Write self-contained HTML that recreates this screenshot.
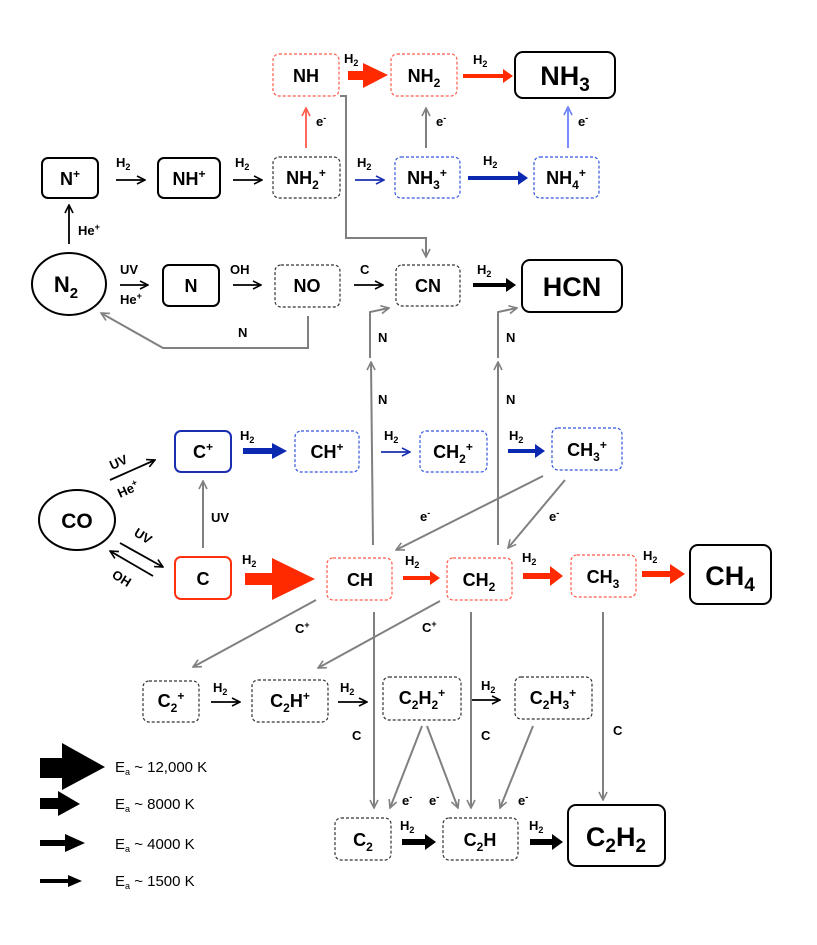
<!DOCTYPE html>
<html><head><meta charset="utf-8"><style>
html,body{margin:0;padding:0;background:#fff}
svg{display:block}
text{font-family:"Liberation Sans",Arial,sans-serif;fill:#000}
.b{font-size:18px;font-weight:bold}
.B{font-size:27px;font-weight:bold}
.s{font-size:13px;font-weight:bold}
.l{font-size:15px}
</style></head><body>
<svg width="817" height="945" viewBox="0 0 817 945" xmlns="http://www.w3.org/2000/svg">
<defs>
<marker id="g" viewBox="0 0 10 10" refX="9" refY="5" markerWidth="10" markerHeight="10" markerUnits="userSpaceOnUse" orient="auto"><path d="M1,1 L9,5 L1,9" fill="none" stroke="#808080" stroke-width="1.6"/></marker>
<marker id="k" viewBox="0 0 10 10" refX="9" refY="5" markerWidth="10" markerHeight="10" markerUnits="userSpaceOnUse" orient="auto"><path d="M1,1 L9,5 L1,9" fill="none" stroke="#000" stroke-width="1.6"/></marker>
<marker id="bl" viewBox="0 0 10 10" refX="9" refY="5" markerWidth="10" markerHeight="10" markerUnits="userSpaceOnUse" orient="auto"><path d="M1,1 L9,5 L1,9" fill="none" stroke="#1a2fb0" stroke-width="1.6"/></marker>
<marker id="lb" viewBox="0 0 10 10" refX="9" refY="5" markerWidth="10" markerHeight="10" markerUnits="userSpaceOnUse" orient="auto"><path d="M1,1 L9,5 L1,9" fill="none" stroke="#6a80ff" stroke-width="1.6"/></marker>
<marker id="r" viewBox="0 0 10 10" refX="9" refY="5" markerWidth="10" markerHeight="10" markerUnits="userSpaceOnUse" orient="auto"><path d="M1,1 L9,5 L1,9" fill="none" stroke="#ff5a4a" stroke-width="1.6"/></marker>
</defs>

<!-- boxes -->
<g fill="#fff" stroke-width="1.2">
<rect x="273" y="54" width="66" height="42" rx="6" stroke="#ff5a4a" stroke-dasharray="3 2"/>
<rect x="391" y="54" width="66" height="42" rx="6" stroke="#ff5a4a" stroke-dasharray="3 2"/>
<rect x="515" y="52" width="100" height="46" rx="8" stroke="#000" stroke-width="2"/>
<rect x="42" y="158" width="56" height="40" rx="6" stroke="#000" stroke-width="2"/>
<rect x="158" y="158" width="62" height="40" rx="6" stroke="#000" stroke-width="2"/>
<rect x="273" y="157" width="67" height="41" rx="6" stroke="#333" stroke-dasharray="3 2"/>
<rect x="395" y="157" width="65" height="41" rx="6" stroke="#3355dd" stroke-dasharray="3 2"/>
<rect x="534" y="157" width="65" height="41" rx="6" stroke="#3355dd" stroke-dasharray="3 2"/>
<ellipse cx="69" cy="284" rx="37" ry="31" stroke="#000" stroke-width="2"/>
<rect x="163" y="265" width="56" height="41" rx="6" stroke="#000" stroke-width="2"/>
<rect x="275" y="265" width="65" height="42" rx="6" stroke="#333" stroke-dasharray="3 2"/>
<rect x="396" y="265" width="64" height="41" rx="6" stroke="#333" stroke-dasharray="3 2"/>
<rect x="522" y="260" width="100" height="52" rx="8" stroke="#000" stroke-width="2"/>
<rect x="175" y="431" width="56" height="41" rx="6" stroke="#1a2fb0" stroke-width="2"/>
<rect x="295" y="431" width="64" height="41" rx="6" stroke="#3355dd" stroke-dasharray="3 2"/>
<rect x="420" y="431" width="67" height="41" rx="6" stroke="#3355dd" stroke-dasharray="3 2"/>
<rect x="552" y="428" width="70" height="42" rx="6" stroke="#3355dd" stroke-dasharray="3 2"/>
<ellipse cx="77" cy="520" rx="38" ry="30" stroke="#000" stroke-width="2"/>
<rect x="175" y="557" width="56" height="42" rx="6" stroke="#ff3010" stroke-width="2"/>
<rect x="327" y="558" width="65" height="42" rx="6" stroke="#ff5a4a" stroke-dasharray="3 2"/>
<rect x="447" y="558" width="65" height="42" rx="6" stroke="#ff5a4a" stroke-dasharray="3 2"/>
<rect x="571" y="555" width="65" height="42" rx="6" stroke="#ff5a4a" stroke-dasharray="3 2"/>
<rect x="690" y="545" width="81" height="59" rx="8" stroke="#000" stroke-width="2"/>
<rect x="143" y="681" width="56" height="41" rx="6" stroke="#333" stroke-dasharray="3 2"/>
<rect x="252" y="680" width="76" height="42" rx="6" stroke="#333" stroke-dasharray="3 2"/>
<rect x="383" y="677" width="78" height="43" rx="6" stroke="#333" stroke-dasharray="3 2"/>
<rect x="515" y="677" width="77" height="42" rx="6" stroke="#333" stroke-dasharray="3 2"/>
<rect x="335" y="818" width="56" height="42" rx="6" stroke="#333" stroke-dasharray="3 2"/>
<rect x="443" y="818" width="75" height="42" rx="6" stroke="#333" stroke-dasharray="3 2"/>
<rect x="568" y="805" width="97" height="61" rx="8" stroke="#000" stroke-width="2"/>
</g>

<!-- box labels -->
<g class="b" text-anchor="middle">
<text x="306" y="82">NH</text>
<text x="424" y="82">NH<tspan font-size="12" dy="5">2</tspan></text>
<text x="70" y="185">N<tspan font-size="12" dy="-7">+</tspan></text>
<text x="189" y="185">NH<tspan font-size="12" dy="-7">+</tspan></text>
<text x="306" y="184">NH<tspan font-size="12" dy="5">2</tspan><tspan font-size="12" dy="-12">+</tspan></text>
<text x="427" y="184">NH<tspan font-size="12" dy="5">3</tspan><tspan font-size="12" dy="-12">+</tspan></text>
<text x="566" y="184">NH<tspan font-size="12" dy="5">4</tspan><tspan font-size="12" dy="-12">+</tspan></text>
<text x="66" y="292" font-size="22">N<tspan font-size="15" dy="6">2</tspan></text>
<text x="191" y="292">N</text>
<text x="307" y="292">NO</text>
<text x="428" y="292">CN</text>
<text x="203" y="458">C<tspan font-size="12" dy="-7">+</tspan></text>
<text x="327" y="458">CH<tspan font-size="12" dy="-7">+</tspan></text>
<text x="453" y="458">CH<tspan font-size="12" dy="5">2</tspan><tspan font-size="12" dy="-12">+</tspan></text>
<text x="587" y="456">CH<tspan font-size="12" dy="5">3</tspan><tspan font-size="12" dy="-12">+</tspan></text>
<text x="77" y="528" font-size="21">CO</text>
<text x="203" y="585">C</text>
<text x="360" y="586">CH</text>
<text x="479" y="586">CH<tspan font-size="12" dy="5">2</tspan></text>
<text x="603" y="583">CH<tspan font-size="12" dy="5">3</tspan></text>
<text x="171" y="707">C<tspan font-size="12" dy="5">2</tspan><tspan font-size="12" dy="-12">+</tspan></text>
<text x="290" y="707">C<tspan font-size="12" dy="5">2</tspan><tspan dy="-5">H</tspan><tspan font-size="12" dy="-7">+</tspan></text>
<text x="422" y="704">C<tspan font-size="12" dy="5">2</tspan><tspan dy="-5">H</tspan><tspan font-size="12" dy="5">2</tspan><tspan font-size="12" dy="-12">+</tspan></text>
<text x="553" y="704">C<tspan font-size="12" dy="5">2</tspan><tspan dy="-5">H</tspan><tspan font-size="12" dy="5">3</tspan><tspan font-size="12" dy="-12">+</tspan></text>
<text x="363" y="846">C<tspan font-size="12" dy="5">2</tspan></text>
<text x="480" y="846">C<tspan font-size="12" dy="5">2</tspan><tspan dy="-5">H</tspan></text>
</g>
<g class="B" text-anchor="middle">
<text x="565" y="85">NH<tspan font-size="19" dy="6">3</tspan></text>
<text x="572" y="296">HCN</text>
<text x="730" y="585">CH<tspan font-size="19" dy="6">4</tspan></text>
<text x="616" y="846">C<tspan font-size="19" dy="6">2</tspan><tspan dy="-6">H</tspan><tspan font-size="19" dy="6">2</tspan></text>
</g>

<!-- gray connectors -->
<g fill="none" stroke="#808080" stroke-width="2">
<path d="M340,96 H346 V238 H426 V257" marker-end="url(#g)"/>
<path d="M426,148 V108" marker-end="url(#g)"/>
<path d="M308,316 V348 H163 L101,313" marker-end="url(#g)"/>
<path d="M373,545 L371,362" marker-end="url(#g)"/>
<path d="M370,358 V312 L389,308" marker-end="url(#g)"/>
<path d="M498,545 V362" marker-end="url(#g)"/>
<path d="M498,358 V312 L517,308" marker-end="url(#g)"/>
<path d="M203,548 V481" marker-end="url(#g)"/>
<path d="M543,476 L396,550" marker-end="url(#g)"/>
<path d="M565,480 L508,548" marker-end="url(#g)"/>
<path d="M316,600 L193,667" marker-end="url(#g)"/>
<path d="M440,601 L318,668" marker-end="url(#g)"/>
<path d="M374,612 V808" marker-end="url(#g)"/>
<path d="M471,612 V808" marker-end="url(#g)"/>
<path d="M603,612 V800" marker-end="url(#g)"/>
<path d="M422,726 L390,808" marker-end="url(#g)"/>
<path d="M427,726 L458,808" marker-end="url(#g)"/>
<path d="M533,726 L500,808" marker-end="url(#g)"/>
</g>

<!-- thin arrows -->
<g fill="none" stroke-width="1.8">
<path d="M116,180 H145" stroke="#000" marker-end="url(#k)"/>
<path d="M233,180 H262" stroke="#000" marker-end="url(#k)"/>
<path d="M355,180 H384" stroke="#1a2fb0" marker-end="url(#bl)"/>
<path d="M306,148 V108" stroke="#ff5a4a" marker-end="url(#r)"/>
<path d="M568,148 V107" stroke="#6a80ff" marker-end="url(#lb)"/>
<path d="M69,244 V205" stroke="#000" marker-end="url(#k)"/>
<path d="M120,285 H148" stroke="#000" marker-end="url(#k)"/>
<path d="M233,285 H261" stroke="#000" marker-end="url(#k)"/>
<path d="M354,285 H383" stroke="#000" marker-end="url(#k)"/>
<path d="M381,452 H410" stroke="#1a2fb0" marker-end="url(#bl)"/>
<path d="M211,702 H240" stroke="#000" marker-end="url(#k)"/>
<path d="M338,702 H367" stroke="#000" marker-end="url(#k)"/>
<path d="M472,700 H500" stroke="#000" marker-end="url(#k)"/>
<path d="M110,480 L155,460" stroke="#000" marker-end="url(#k)"/>
<path d="M120,543 L163,567" stroke="#000" marker-end="url(#k)"/>
<path d="M153,576 L110,551" stroke="#000" marker-end="url(#k)"/>
</g>

<!-- filled arrows -->
<g>
<polygon fill="#ff2a00" points="348,71 363,71 363,63 388,75 363,88 363,80 348,80"/>
<polygon fill="#ff2a00" points="463,74 503,74 503,69 513,76 503,83 503,78 463,78"/>
<polygon fill="#0a28b0" points="468,176 518,176 518,171 528,178 518,185 518,180 468,180"/>
<polygon fill="#000" points="473,283 506,283 506,278 516,285 506,292 506,287 473,287"/>
<polygon fill="#0a28b0" points="243,448 272,448 272,443 287,451 272,459 272,454 243,454"/>
<polygon fill="#0a28b0" points="508,449 535,449 535,444 545,451 535,458 535,453 508,453"/>
<polygon fill="#ff2a00" points="245,573 272,573 272,558 315,579 272,600 272,585 245,585"/>
<polygon fill="#ff2a00" points="403,576 430,576 430,571 440,578 430,585 430,580 403,580"/>
<polygon fill="#ff2a00" points="523,573 550,573 550,566 563,576 550,586 550,579 523,579"/>
<polygon fill="#ff2a00" points="642,571 670,571 670,564 685,574 670,584 670,577 642,577"/>
<polygon fill="#000" points="402,839 425,839 425,834 436,842 425,850 425,845 402,845"/>
<polygon fill="#000" points="530,839 552,839 552,834 563,842 552,850 552,845 530,845"/>
<!-- legend -->
<polygon fill="#000" points="40,758 62,758 62,743 105,767 62,790 62,778 40,778"/>
<polygon fill="#000" points="40,798 58,798 58,791 80,804 58,816 58,809 40,809"/>
<polygon fill="#000" points="40,840 65,840 65,834 85,843 65,852 65,846 40,846"/>
<polygon fill="#000" points="40,879 68,879 68,875 82,881 68,887 68,883 40,883"/>
</g>

<!-- small labels -->
<g class="s">
<text x="344" y="63">H<tspan font-size="9" dy="3">2</tspan></text>
<text x="473" y="64">H<tspan font-size="9" dy="3">2</tspan></text>
<text x="316" y="126">e<tspan font-size="9" dy="-5">-</tspan></text>
<text x="436" y="126">e<tspan font-size="9" dy="-5">-</tspan></text>
<text x="578" y="126">e<tspan font-size="9" dy="-5">-</tspan></text>
<text x="116" y="167">H<tspan font-size="9" dy="3">2</tspan></text>
<text x="235" y="167">H<tspan font-size="9" dy="3">2</tspan></text>
<text x="357" y="167">H<tspan font-size="9" dy="3">2</tspan></text>
<text x="483" y="165">H<tspan font-size="9" dy="3">2</tspan></text>
<text x="78" y="235">He<tspan font-size="9" dy="-5">+</tspan></text>
<text x="120" y="274">UV</text>
<text x="120" y="304">He<tspan font-size="9" dy="-5">+</tspan></text>
<text x="230" y="274">OH</text>
<text x="360" y="274">C</text>
<text x="477" y="274">H<tspan font-size="9" dy="3">2</tspan></text>
<text x="238" y="337">N</text>
<text x="378" y="342">N</text>
<text x="378" y="404">N</text>
<text x="506" y="342">N</text>
<text x="506" y="404">N</text>
<text x="240" y="440">H<tspan font-size="9" dy="3">2</tspan></text>
<text x="384" y="440">H<tspan font-size="9" dy="3">2</tspan></text>
<text x="509" y="440">H<tspan font-size="9" dy="3">2</tspan></text>
<text x="211" y="522">UV</text>
<text x="420" y="521">e<tspan font-size="9" dy="-5">-</tspan></text>
<text x="549" y="521">e<tspan font-size="9" dy="-5">-</tspan></text>
<text x="242" y="564">H<tspan font-size="9" dy="3">2</tspan></text>
<text x="405" y="565">H<tspan font-size="9" dy="3">2</tspan></text>
<text x="522" y="562">H<tspan font-size="9" dy="3">2</tspan></text>
<text x="643" y="560">H<tspan font-size="9" dy="3">2</tspan></text>
<text x="295" y="633">C<tspan font-size="9" dy="-5">+</tspan></text>
<text x="422" y="632">C<tspan font-size="9" dy="-5">+</tspan></text>
<text x="213" y="692">H<tspan font-size="9" dy="3">2</tspan></text>
<text x="340" y="692">H<tspan font-size="9" dy="3">2</tspan></text>
<text x="481" y="690">H<tspan font-size="9" dy="3">2</tspan></text>
<text x="352" y="740">C</text>
<text x="481" y="740">C</text>
<text x="613" y="735">C</text>
<text x="402" y="805">e<tspan font-size="9" dy="-5">-</tspan></text>
<text x="429" y="805">e<tspan font-size="9" dy="-5">-</tspan></text>
<text x="518" y="805">e<tspan font-size="9" dy="-5">-</tspan></text>
<text x="400" y="830">H<tspan font-size="9" dy="3">2</tspan></text>
<text x="529" y="830">H<tspan font-size="9" dy="3">2</tspan></text>
<text transform="translate(112,470) rotate(-24)">UV</text>
<text transform="translate(120,498) rotate(-24)">He<tspan font-size="9" dy="-5">+</tspan></text>
<text transform="translate(133,535) rotate(32)">UV</text>
<text transform="translate(111,577) rotate(32)">OH</text>
</g>

<!-- legend text -->
<g class="l">
<text x="115" y="772">E<tspan font-size="9" dy="3">a</tspan><tspan dy="-3"> ~ 12,000 K</tspan></text>
<text x="115" y="809">E<tspan font-size="9" dy="3">a</tspan><tspan dy="-3"> ~ 8000 K</tspan></text>
<text x="115" y="849">E<tspan font-size="9" dy="3">a</tspan><tspan dy="-3"> ~ 4000 K</tspan></text>
<text x="115" y="886">E<tspan font-size="9" dy="3">a</tspan><tspan dy="-3"> ~ 1500 K</tspan></text>
</g>
</svg>
</body></html>
